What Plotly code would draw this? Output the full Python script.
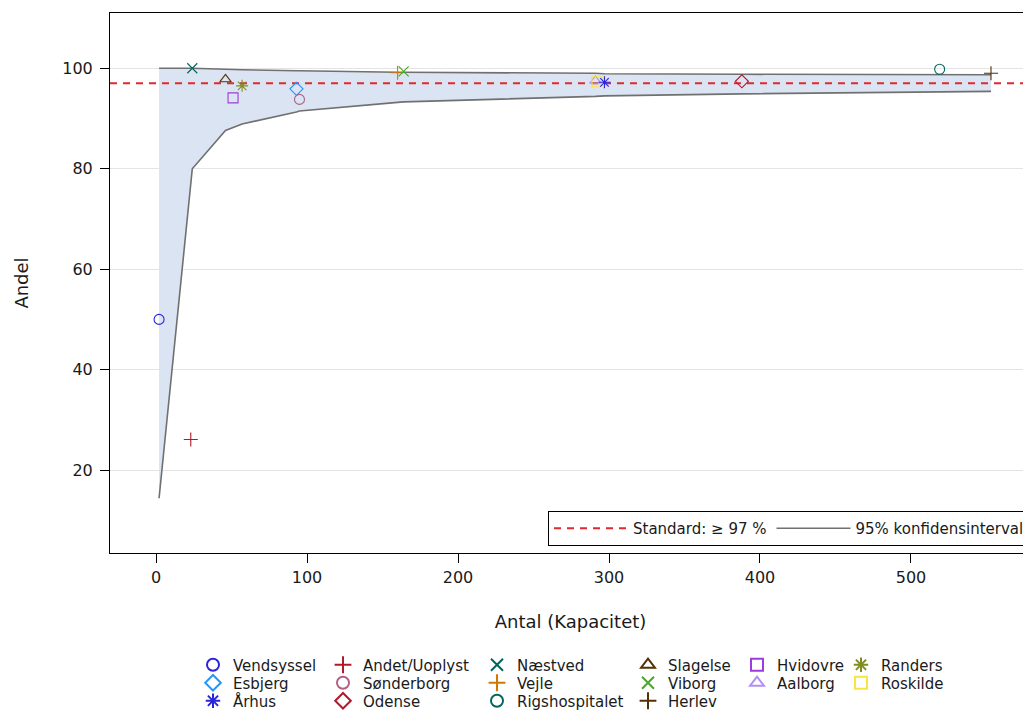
import plotly.graph_objects as go

# ---------------- data ----------------
hospitals = ["Vendsyssel", "Andet/Uoplyst", "Næstved", "Slagelse", "Hvidovre", "Randers",
             "Esbjerg", "Sønderborg", "Vejle", "Viborg", "Aalborg", "Roskilde",
             "Århus", "Odense", "Rigshospitalet", "Herlev"]
antal = [2, 23, 24, 46, 51, 57, 93, 95, 160, 164, 291, 292, 297, 388, 519, 553]
andel = [50.0, 26.1, 100.0, 97.8, 94.1, 96.5, 95.9, 93.8, 99.1, 99.4, 97.5, 97.3, 97.2, 97.4, 99.8, 99.0]

ci_x = [2, 24, 46, 51, 57, 93, 95, 160, 164, 291, 297, 388, 519, 553]
ci_upper = [100.0, 100.0, 99.8, 99.8, 99.7, 99.5, 99.5, 99.2, 99.2, 99.0, 98.9, 98.8, 98.7, 98.7]
ci_lower = [14.4, 80.0, 87.6, 88.2, 88.9, 91.3, 91.5, 93.2, 93.3, 94.4, 94.5, 94.9, 95.3, 95.4]

standard = 97
x_range = [-30.5, 579.5]
y_range = [3.5, 111]
x_ticks = [0, 100, 200, 300, 400, 500]
y_ticks = [20, 40, 60, 80, 100]

colors = ["#2A25D9", "#B2182B", "#01665E", "#543005", "#9D3CDB", "#7F8E1F",
          "#2597FA", "#B26084", "#D17800", "#47A82A", "#B38EF3", "#F9E53F",
          "#2A25D9", "#B2182B", "#01665E", "#543005"]
symbols = ["circle-open", "cross-thin-open", "x-thin-open", "triangle-up-open", "square-open",
           "asterisk-open", "diamond-open"]

# bottom legend grid: column / row of each hospital
legend_col = [0, 1, 2, 3, 4, 5, 0, 1, 2, 3, 4, 5, 0, 1, 2, 3]
legend_row = [0, 0, 0, 0, 0, 0, 1, 1, 1, 1, 1, 1, 2, 2, 2, 2]

FONT = "DejaVu Sans"
TXT = "#1a1a1a"
OFF = 8  # page body margin offset

fig = go.Figure()

# confidence band fill
fig.add_trace(go.Scatter(x=ci_x, y=ci_lower, mode="lines", line=dict(width=0),
                         showlegend=False, hoverinfo="skip"))
fig.add_trace(go.Scatter(x=ci_x, y=ci_upper, mode="lines", line=dict(width=0),
                         fill="tonexty", fillcolor="#DAE4F2", showlegend=False, hoverinfo="skip"))

# standard line
fig.add_trace(go.Scatter(x=x_range, y=[standard, standard], mode="lines",
                         line=dict(color="#E0282D", width=2, dash="7px,6px"),
                         name="Standard: \u2265 97 %", legend="legend"))
# CI lines
fig.add_trace(go.Scatter(x=ci_x, y=ci_lower, mode="lines", line=dict(color="#707070", width=1.6),
                         showlegend=False))
fig.add_trace(go.Scatter(x=ci_x, y=ci_upper, mode="lines", line=dict(color="#707070", width=1.6),
                         name="95% konfidensinterval", legend="legend"))

# target pixel layout (screen), converted to figure coords by OFF
plot_left, plot_right, plot_top, plot_bottom = 110 - OFF, 1031 - OFF, 13 - OFF, 553 - OFF
pw = plot_right - plot_left
ph = plot_bottom - plot_top
col_marker_px = [213, 343, 497, 648, 757, 861]
row_center_px = [665, 683, 701]

layout_legends = {}
for i in range(len(hospitals)):
    lg = "legend%d" % (i + 2)
    fig.add_trace(go.Scatter(
        x=[antal[i]], y=[andel[i]], mode="markers", name=hospitals[i],
        marker=dict(symbol=symbols[i % 7], size=10, color=colors[i],
                    line=dict(color=colors[i], width=1.1)),
        legend=lg))
    px = col_marker_px[legend_col[i]] - OFF
    py = row_center_px[legend_row[i]] - OFF
    layout_legends[lg] = dict(
        x=(px - 20 - plot_left) / pw, xanchor="left",
        y=(plot_bottom - py) / ph, yanchor="middle",
        orientation="v", bgcolor="rgba(0,0,0,0)", borderwidth=0,
        font=dict(family=FONT, size=15, color=TXT), itemsizing="constant")

fig.update_layout(
    width=1031, height=721,
    margin=dict(l=plot_left, r=1031 - plot_right, t=plot_top, b=721 - plot_bottom, autoexpand=False),
    plot_bgcolor="white", paper_bgcolor="white",
    font=dict(family=FONT, size=15, color=TXT),
    legend=dict(orientation="h", x=(1030 - OFF - plot_left) / pw, xanchor="right",
                y=7 / ph, yanchor="bottom", itemwidth=74,
                bordercolor="black", borderwidth=1, bgcolor="white", traceorder="normal",
                font=dict(family=FONT, size=15, color=TXT)),
    **layout_legends,
    xaxis=dict(range=x_range, tickvals=x_ticks, showgrid=False, zeroline=False,
               showline=True, linecolor="black", linewidth=1, mirror=True,
               ticks="outside", ticklen=9, tickcolor="black", ticklabelstandoff=1,
               tickfont=dict(family=FONT, size=16, color=TXT),
               title=dict(text="Antal (Kapacitet)", font=dict(family=FONT, size=18, color=TXT),
                          standoff=29)),
    yaxis=dict(range=y_range, tickvals=y_ticks, showgrid=True, gridcolor="#E4E4E4",
               zeroline=False, showline=True, linecolor="black", linewidth=1, mirror=True,
               ticks="outside", ticklen=9, tickcolor="black", ticklabelstandoff=4,
               tickfont=dict(family=FONT, size=16, color=TXT),
               title=dict(text="Andel", font=dict(family=FONT, size=18, color=TXT),
                          standoff=28)),
)

fig.write_html("out.html")
